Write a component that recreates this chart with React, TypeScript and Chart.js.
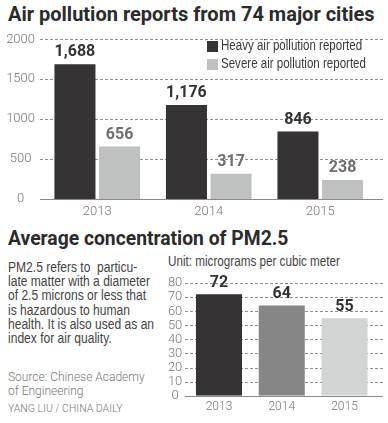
import React, { useEffect, useRef } from "react";
import { Chart, registerables } from "chart.js";

Chart.register(...registerables);

// ---------- data ----------
const years = ["2013", "2014", "2015"];
const heavyReports = [1688, 1176, 846];
const severeReports = [656, 317, 238];
const heavyLabels = ["1,688", "1,176", "846"];
const severeLabels = ["656", "317", "238"];
const seriesNames = ["Heavy air pollution reported", "Severe air pollution reported"];
const reportMax = 2000;
const reportStep = 500;

const pm25Values = [72, 64, 55];
const pm25Labels = ["72", "64", "55"];
const pm25Max = 80;
const pm25Step = 10;

const paragraphLines = [
  "PM2.5 refers to  particu-",
  "late matter with a diameter",
  "of 2.5 microns or less that",
  "is hazardous to human",
  "health. It is also used as an",
  "index for air quality.",
];
const sourceLines = ["Source: Chinese Academy", "of Engineering"];
const creditText = "YANG LIU / CHINA DAILY";

// ---------- styles ----------
const DARK = "#353334";
const LIGHT = "#bfc0c0";
const MID = "#868686";
const PALE = "#d3d4d4";
const SANS = "'Liberation Sans', Arial, sans-serif";
const tickFont = { family: "Roboto", size: 13, weight: 300 as any };

function gridPlugin(startX: number, extendRight: number) {
  return {
    id: "customGrid",
    beforeDatasetsDraw(chart: any) {
      const y = chart.scales.y;
      const ctx = chart.ctx;
      ctx.save();
      ctx.lineWidth = 1;
      y.ticks.forEach((t: any) => {
        if (t.value === 0) return;
        const py = Math.round(y.getPixelForValue(t.value)) + 0.5;
        ctx.beginPath();
        ctx.strokeStyle = "#8f8f8f";
        ctx.setLineDash([3, 2]);
        ctx.moveTo(startX, py);
        ctx.lineTo(chart.chartArea.right + extendRight, py);
        ctx.stroke();
      });
      ctx.restore();
    },
    afterDatasetsDraw(chart: any) {
      const y = chart.scales.y;
      const ctx = chart.ctx;
      const py = Math.round(y.getPixelForValue(0)) + 0.5;
      ctx.save();
      ctx.strokeStyle = "#8a8a8a";
      ctx.lineWidth = 1;
      ctx.beginPath();
      ctx.moveTo(startX, py);
      ctx.lineTo(chart.chartArea.right + extendRight, py);
      ctx.stroke();
      ctx.restore();
    },
  };
}

function valueLabelPlugin(labels: string[][], colors: string[][], gap: number) {
  return {
    id: "valueLabels",
    afterDatasetsDraw(chart: any) {
      const ctx = chart.ctx;
      ctx.save();
      ctx.font = "bold 16px Roboto";
      ctx.textAlign = "center";
      ctx.textBaseline = "alphabetic";
      chart.data.datasets.forEach((_: any, di: number) => {
        const meta = chart.getDatasetMeta(di);
        meta.data.forEach((el: any, i: number) => {
          ctx.fillStyle = colors[di][i];
          ctx.fillText(labels[di][i], el.x, el.y - gap);
        });
      });
      ctx.restore();
    },
  };
}

const legendPlugin = {
  id: "boxLegend",
  afterDraw(chart: any) {
    const ctx = chart.ctx;
    chart.data.datasets.forEach((ds: any, i: number) => {
      const top = 16 + i * 18;
      ctx.save();
      ctx.fillStyle = ds.backgroundColor;
      ctx.fillRect(207, top, 11, 11);
      ctx.translate(221, top + 5.5);
      ctx.scale(0.824, 1);
      ctx.font = `14px ${SANS}`;
      ctx.textBaseline = "middle";
      ctx.textAlign = "left";
      ctx.fillStyle = "#3a3a3a";
      ctx.fillText(ds.label, 0, 0);
      ctx.restore();
    });
  },
};

const plainTick = (v: any) => String(v);

function TopChart() {
  const ref = useRef<HTMLCanvasElement>(null);
  useEffect(() => {
    const chart = new Chart(ref.current!, {
      type: "bar",
      data: {
        labels: years,
        datasets: [
          { label: seriesNames[0], data: heavyReports, backgroundColor: DARK, categoryPercentage: 0.8, barPercentage: 0.92 },
          { label: seriesNames[1], data: severeReports, backgroundColor: LIGHT, categoryPercentage: 0.8, barPercentage: 0.92 },
        ],
      },
      options: {
        responsive: false,
        animation: false,
        layout: { padding: { top: 10, right: 12, left: 0, bottom: 0 } },
        plugins: { legend: { display: false }, tooltip: { enabled: false } },
        scales: {
          x: {
            grid: { display: false, drawTicks: false },
            border: { display: false },
            ticks: { padding: 5, color: "#777", font: tickFont },
            afterFit: (s: any) => { s.height = 21; },
          },
          y: {
            min: 0,
            max: reportMax,
            grid: { display: false, drawTicks: false },
            border: { display: false },
            ticks: { stepSize: reportStep, autoSkip: false, padding: 6.5, crossAlign: "center", color: "#777", font: tickFont, callback: plainTick },
            afterFit: (s: any) => { s.width = 41.5; },
          },
        },
      } as any,
      plugins: [
        gridPlugin(40, 7),
        valueLabelPlugin([heavyLabels, severeLabels], [["#333", "#333", "#333"], ["#6e6e6e", "#6e6e6e", "#6e6e6e"]], 7.8),
        legendPlugin,
      ],
    });
    return () => chart.destroy();
  }, []);
  return <canvas ref={ref} width={388} height={195} style={{ position: "absolute", left: 0, top: 25, width: 388, height: 195 }} />;
}

function BottomChart() {
  const ref = useRef<HTMLCanvasElement>(null);
  useEffect(() => {
    const chart = new Chart(ref.current!, {
      type: "bar",
      data: {
        labels: years,
        datasets: [
          { label: "PM2.5", data: pm25Values, backgroundColor: [DARK, MID, PALE], categoryPercentage: 0.8, barPercentage: 0.917 },
        ],
      },
      options: {
        responsive: false,
        animation: false,
        layout: { padding: { top: 12.7, right: 12.1, left: 0, bottom: 0 } },
        plugins: { legend: { display: false }, tooltip: { enabled: false } },
        scales: {
          x: {
            grid: { display: false, drawTicks: false },
            border: { display: false },
            ticks: { padding: 4, color: "#777", font: { family: "Roboto", size: 12, weight: 300 } },
            afterFit: (s: any) => { s.height = 27.3; },
          },
          y: {
            min: 0,
            max: pm25Max,
            grid: { display: false, drawTicks: false },
            border: { display: false },
            ticks: { stepSize: pm25Step, autoSkip: false, padding: 5.3, crossAlign: "center", color: "#777", font: tickFont, callback: plainTick },
            afterFit: (s: any) => { s.width = 27.6; },
          },
        },
      } as any,
      plugins: [gridPlugin(25, 7), valueLabelPlugin([pm25Labels], [["#333", "#333", "#333"]], 7.3)],
    });
    return () => chart.destroy();
  }, []);
  return <canvas ref={ref} width={228} height={153} style={{ position: "absolute", left: 160, top: 270, width: 228, height: 153 }} />;
}

const abs = (top: number, left: number, extra: React.CSSProperties): React.CSSProperties => ({
  position: "absolute",
  top,
  left,
  whiteSpace: "pre",
  margin: 0,
  transformOrigin: "0 0",
  ...extra,
});

export default function App() {
  return (
    <div style={{ position: "absolute", left: 0, top: 0, width: 388, height: 423, background: "#fff", overflow: "hidden" }}>
      <div style={abs(3.9, 8, { fontFamily: "Roboto", fontWeight: 700, fontSize: 20, lineHeight: "20px", color: "#2b2b2b" })}>
        Air pollution reports from 74 major cities
      </div>
      <TopChart />
      <div style={abs(227.5, 8, { fontFamily: "Roboto", fontWeight: 700, fontSize: 20, lineHeight: "20px", color: "#2b2b2b", transform: "scaleX(0.965)" })}>
        Average concentration of PM2.5
      </div>
      <div style={abs(259.7, 8, { fontFamily: SANS, fontSize: 14, lineHeight: "14.3px", color: "#444", transform: "scaleX(0.861)" })}>
        {paragraphLines.join("\n")}
      </div>
      <div style={abs(253.7, 168, { fontFamily: SANS, fontSize: 14, lineHeight: "14.3px", color: "#444", transform: "scaleX(0.834)" })}>
        Unit: micrograms per cubic meter
      </div>
      <div style={abs(369.5, 8, { fontFamily: "Roboto", fontWeight: 300, fontSize: 12, lineHeight: "14.7px", color: "#777" })}>
        {sourceLines.join("\n")}
      </div>
      <div style={abs(403, 8, { fontFamily: "Roboto", fontWeight: 300, fontSize: 10.5, lineHeight: "12px", color: "#777" })}>
        {creditText}
      </div>
      <BottomChart />
    </div>
  );
}
